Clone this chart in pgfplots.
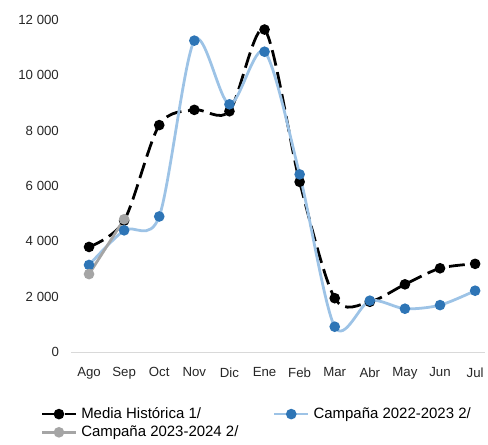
\documentclass[border=0pt]{standalone}
\usepackage{pgfplots}
\pgfplotsset{compat=1.18}
\usepackage{fontspec}
\setmainfont{Liberation Sans}
\definecolor{lblue}{RGB}{157,195,230}
\definecolor{mblue}{RGB}{46,117,182}
\definecolor{mgray}{RGB}{165,165,165}
\definecolor{axgray}{RGB}{217,217,217}
\begin{document}
\begin{tikzpicture}
\begin{axis}[
  scale only axis,
  width=312pt, height=251pt,
  xmin=-0.5, xmax=11.27, ymin=0, ymax=12000,
  xtick={0,...,11},
  xticklabels={Ago,Sep,Oct,Nov,Dic,Ene,Feb,Mar,Abr,May,Jun,Jul},
  ytick={0,2000,4000,6000,8000,10000,12000},
  yticklabels={0,2 000,4 000,6 000,8 000,10 000,12 000},
  scaled y ticks=false,
  axis y line*=left,
  y axis line style={draw=none},
  axis x line*=bottom,
  x axis line style={axgray, line width=0.8pt, -},
  major tick length=0pt,
  tick label style={font=\fontsize{10}{12}\selectfont, text=black!85},
  yticklabel style={xshift=-6pt},
  xticklabel style={yshift=-8pt},
  clip=false,
  legend columns=2,
  legend style={draw=none, font=\fontsize{11.3}{13}\selectfont, at={(-0.085,-0.15)}, anchor=north west,
    /tikz/every even column/.append style={column sep=24pt}, row sep=0pt,
    /tikz/every odd column/.append style={column sep=1pt}},
  legend cell align=left,
  legend image code/.code={\draw[#1, mark repeat=2, mark phase=2] plot coordinates {(0cm,0cm) (0.45cm,0cm) (0.9cm,0cm)};},
]
\addplot+[smooth, black, line width=2.1pt, dash pattern=on 12pt off 5pt, mark=*, mark size=2.9pt,
  mark options={solid, fill=black}]
  coordinates {(0,3800) (1,4750) (2,8200) (3,8750) (4,8700) (5,11650) (6,6150) (7,1950) (8,1820) (9,2450) (10,3030) (11,3190)};
\addlegendentry{Media Histórica 1/}
\addplot+[smooth, lblue, line width=2.1pt, mark=*, mark size=2.9pt, mark options={solid, draw=mblue, fill=mblue}]
  coordinates {(0,3150) (1,4400) (2,4900) (3,11250) (4,8950) (5,10850) (6,6420) (7,920) (8,1860) (9,1570) (10,1700) (11,2220)};
\addlegendentry{Campaña 2022-2023 2/}
\addplot+[mgray, line width=2.1pt, mark=*, mark size=2.9pt, mark options={solid, draw=mgray, fill=mgray}]
  coordinates {(0,2820) (1,4800)};
\addlegendentry{Campaña 2023-2024 2/}
\coordinate (O) at (rel axis cs:0,0);
\coordinate (T) at (rel axis cs:1,1);
\end{axis}
\path ([xshift=-54pt,yshift=-60.75pt]O) rectangle ([yshift=15pt]T);
\end{tikzpicture}
\end{document}
